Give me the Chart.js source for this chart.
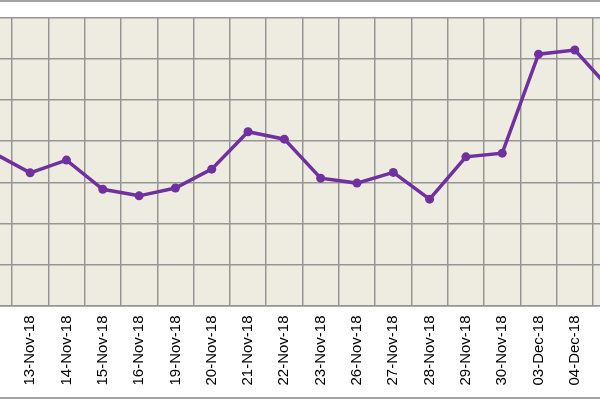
<!DOCTYPE html>
<html>
<head>
<meta charset="utf-8">
<script src="https://cdn.jsdelivr.net/npm/chart.js@4/dist/chart.umd.min.js"></script>
<style>
  html, body { margin: 0; padding: 0; background: #fff; }
  #frame { position: relative; width: 600px; height: 400px; overflow: hidden; }
  /* the chart is wider than the window: only the middle part shows */
  #wrap { position: absolute; left: -100px; top: 0; width: 800px; height: 400px; }
  .edge { position: absolute; left: 0; width: 600px; height: 2px; background: #a3a3a3; }
</style>
</head>
<body>
<div id="frame">
  <div id="wrap"><canvas id="priceChart"></canvas></div>
  <div class="edge" style="top:0"></div>
  <div class="edge" style="top:397px"></div>
</div>
<script>
// trading days shown
const days = [
  "12-Nov-18", "13-Nov-18", "14-Nov-18", "15-Nov-18", "16-Nov-18", "19-Nov-18",
  "20-Nov-18", "21-Nov-18", "22-Nov-18", "23-Nov-18", "26-Nov-18", "27-Nov-18",
  "28-Nov-18", "29-Nov-18", "30-Nov-18", "03-Dec-18", "04-Dec-18", "05-Dec-18"
];

// values (one grid step = 1)
const closes = [
  3.71, 3.23, 3.54, 2.83, 2.67, 2.86,
  3.32, 4.23, 4.05, 3.10, 2.98, 3.24,
  2.59, 3.62, 3.71, 6.12, 6.22, 5.24
];

const yMin = 0;
const yMax = 7;

const plotBg = {
  id: "plotBg",
  beforeDraw(chart) {
    const { ctx, chartArea: a } = chart;
    ctx.save();
    ctx.fillStyle = "#EEECE1";
    ctx.fillRect(a.left, a.top, a.right - a.left, a.bottom - a.top);
    ctx.restore();
  }
};

const ctx = document.getElementById("priceChart").getContext("2d");

new Chart(ctx, {
  type: "line",
  data: {
    labels: days,
    datasets: [{
      label: "Close",
      data: closes,
      borderColor: "#7030A0",
      backgroundColor: "#7030A0",
      borderWidth: 3.5,
      pointRadius: 4.5,
      pointBackgroundColor: "#7030A0",
      pointBorderWidth: 0,
      tension: 0,
      fill: false
    }]
  },
  options: {
    responsive: true,
    maintainAspectRatio: false,
    animation: false,
    layout: { padding: { left: 75.69, right: 70.69, top: 18, bottom: 0 } },
    plugins: {
      legend: { display: false },
      tooltip: { enabled: false }
    },
    scales: {
      x: {
        offset: true,
        afterFit(scale) { scale.height = 94.5; },
        grid: { offset: true, color: "#959595", lineWidth: 1.5, drawTicks: false },
        border: { color: "#959595", width: 1.5 },
        ticks: {
          autoSkip: false,
          minRotation: 90,
          maxRotation: 90,
          padding: 10,
          color: "#000",
          font: { family: "Liberation Sans", size: 15 }
        }
      },
      y: {
        min: yMin,
        max: yMax,
        afterFit(scale) { scale.width = 0; },
        grid: { color: "#959595", lineWidth: 1.5, drawTicks: false },
        border: { display: false },
        ticks: { display: false, stepSize: 1 }
      }
    }
  },
  plugins: [plotBg]
});
</script>
</body>
</html>
